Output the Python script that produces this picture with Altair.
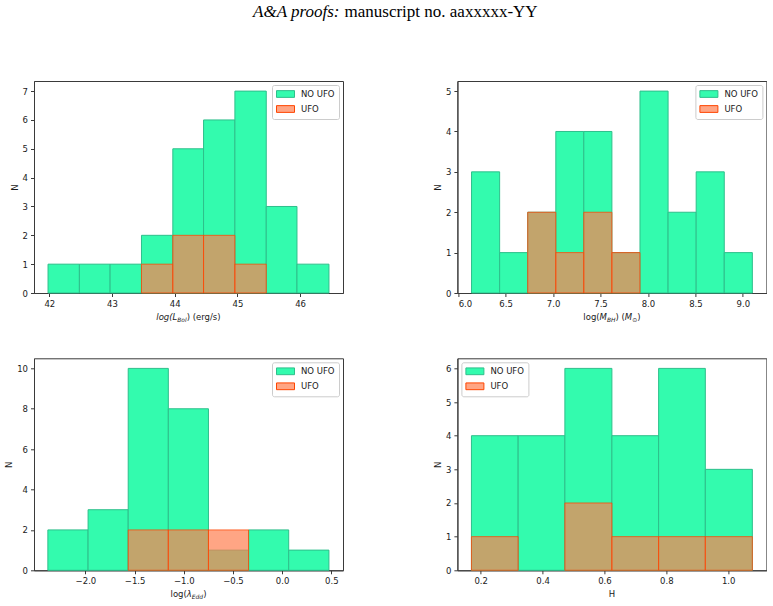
import altair as alt
import pandas as pd

# ---- histogram bins (edges) and counts for the two samples ----
lbol_edges = [41.98, 42.48, 42.97, 43.47, 43.97, 44.46, 44.96, 45.46, 45.95, 46.46]
lbol_no_ufo = [1, 1, 1, 2, 5, 6, 7, 3, 1]
lbol_ufo = [0, 0, 0, 1, 2, 2, 1, 0, 0]

mbh_edges = [6.141, 6.437, 6.733, 7.029, 7.324, 7.620, 7.916, 8.212, 8.508, 8.804, 9.100]
mbh_no_ufo = [3, 1, 2, 4, 4, 1, 5, 2, 3, 1]
mbh_ufo = [0, 0, 2, 1, 2, 1, 0, 0, 0, 0]

edd_edges = [-2.382, -1.973, -1.565, -1.157, -0.749, -0.341, 0.067, 0.476]
edd_no_ufo = [2, 3, 10, 8, 1, 2, 1]
edd_ufo = [0, 0, 2, 2, 2, 0, 0]

h_edges = [0.170, 0.321, 0.472, 0.624, 0.775, 0.926, 1.078]
h_no_ufo = [4, 4, 6, 4, 6, 3]
h_ufo = [1, 0, 2, 1, 1, 1]

# axis ticks
lbol_ticks = [42, 43, 44, 45, 46]
mbh_ticks = [6.0, 6.5, 7.0, 7.5, 8.0, 8.5, 9.0]
edd_ticks = [-2.0, -1.5, -1.0, -0.5, 0.0, 0.5]
h_ticks = [0.2, 0.4, 0.6, 0.8, 1.0]

GROUPS = ["NO UFO", "UFO"]
FILL_RANGE = ["#33FBAE", "#FFA584"]
STROKE_RANGE = ["#2EBF8B", "#FF4500"]

FONT = "DejaVu Sans"
FS = 8.5
W, H = 309, 212

# approximate DejaVu Sans advance widths (em) used to lay out the math-style titles
EM = {"l": .278, "o": .612, "g": .635, "(": .39, ")": .39, "L": .557, "B": .686,
      " ": .318, "e": .615, "r": .411, "/": .337, "s": .521, "M": .863, "H": .752,
      "E": .632, "d": .635, "\u03bb": .592, "\u2299": .838}


def text_width(s, size):
    return sum(EM.get(c, 0.6) for c in s) * size


def hist_table(edges, counts, group):
    rows = [{"lo": lo, "hi": hi, "n": n, "group": group}
            for lo, hi, n in zip(edges[:-1], edges[1:], counts) if n > 0]
    return pd.DataFrame(rows)


def math_title(parts, baseline):
    """parts: list of (text, italic, subscript) drawn centred under the plot."""
    sizes = [FS * 0.7 if sub else FS for _, _, sub in parts]
    total = sum(text_width(t, s) for (t, _, _), s in zip(parts, sizes))
    x = W / 2 - total / 2
    layers = []
    for (t, italic, sub), s in zip(parts, sizes):
        # leading blanks are turned into an x advance (SVG drops them)
        body = t.lstrip(" ")
        x += text_width(t[: len(t) - len(body)], s)
        layers.append(
            alt.Chart(alt.Data(values=[{}]))
            .mark_text(text=body, font=FONT, fontSize=s,
                       fontStyle="italic" if italic else "normal",
                       align="left", baseline="alphabetic", color="#1a1a1a")
            .encode(x=alt.value(x), y=alt.value(baseline + (2.2 if sub else 0)))
        )
        x += text_width(body, s)
    return layers


def panel(edges, no_ufo, ufo, xdom, xticks, xfmt, ymax, yticks, title_parts, orient):
    df = pd.concat([hist_table(edges, no_ufo, "NO UFO"), hist_table(edges, ufo, "UFO")],
                   ignore_index=True)
    legend = alt.Legend(
        orient=orient, offset=4, title=None, padding=4, strokeColor="#cccccc",
        fillColor="white", cornerRadius=2, symbolType="M-1,-0.75H3V0.75H-1Z",
        symbolSize=81, symbolStrokeWidth=1, labelOffset=15, rowPadding=3,
        labelFont=FONT, labelFontSize=FS, labelColor="#1a1a1a",
    )
    fill_scale = alt.Scale(domain=GROUPS, range=FILL_RANGE)
    stroke_scale = alt.Scale(domain=GROUPS, range=STROKE_RANGE)
    x = alt.X("lo:Q", scale=alt.Scale(domain=xdom, nice=False, zero=False),
              axis=alt.Axis(values=xticks, format=xfmt, title=None))
    y = alt.Y("n:Q", scale=alt.Scale(domain=[0, ymax * 1.05], nice=False),
              axis=alt.Axis(values=yticks, format="d", title="N"))
    base = alt.Chart(df).encode(
        x=x, x2="hi:Q", y=y, y2=alt.datum(0),
        stroke=alt.Stroke("group:N", scale=stroke_scale, legend=legend),
    )
    green = (base.transform_filter(alt.datum.group == "NO UFO")
             .mark_bar(strokeWidth=1)
             .encode(color=alt.Color("group:N", scale=fill_scale, legend=legend)))
    orange = (base.transform_filter(alt.datum.group == "UFO")
              .mark_bar(fill="#FF7F50", fillOpacity=0.7, strokeOpacity=0.75, strokeWidth=1))
    layers = [green, orange] + math_title(title_parts, 238.5)
    return layers


p1_layers = panel(lbol_edges, lbol_no_ufo, lbol_ufo, [41.756, 46.684], lbol_ticks, "d", 7,
                  list(range(0, 8)),
                  [("log(L", True, False), ("Bol", True, True), (")", False, False),
                   (" (erg/s)", False, False)], "top-right")

# page header placed above the first panel
header = [
    alt.Chart(alt.Data(values=[{}]))
    .mark_text(text="A&A proofs:", font="Liberation Serif", fontSize=17, fontStyle="italic",
               align="right", baseline="alphabetic", color="black")
    .encode(x=alt.value(305.5), y=alt.value(-64)),
    alt.Chart(alt.Data(values=[{}]))
    .mark_text(text="manuscript no. aaxxxxx-YY", font="Liberation Serif", fontSize=17,
               align="left", baseline="alphabetic", color="black")
    .encode(x=alt.value(310.5), y=alt.value(-64)),
]

p1 = alt.layer(*(p1_layers + header)).properties(width=W, height=H)

p2 = alt.layer(*panel(mbh_edges, mbh_no_ufo, mbh_ufo, [5.992, 9.248], mbh_ticks, ".1f", 5,
                      list(range(0, 6)),
                      [("log(", False, False), ("M", True, False), ("BH", True, True),
                       (")", False, False), (" (", False, False), ("M", True, False),
                       ("\u2299", False, True), (")", False, False)],
                      "top-right")).properties(width=W, height=H)

p3 = alt.layer(*panel(edd_edges, edd_no_ufo, edd_ufo, [-2.523, 0.619], edd_ticks, ".1f", 10,
                      [0, 2, 4, 6, 8, 10],
                      [("log(", False, False), ("\u03bb", True, False), ("Edd", True, True),
                       (")", False, False)], "top-right")).properties(width=W, height=H)

p4 = alt.layer(*panel(h_edges, h_no_ufo, h_ufo, [0.1246, 1.1234], h_ticks, ".1f", 6,
                      list(range(0, 7)),
                      [("H", False, False)], "top-left")).properties(width=W, height=H)

chart = (
    alt.concat(p1, p2, p3, p4, columns=2, bounds="flush",
               spacing=alt.RowColnumber(row=65.3, column=114.4))
    .resolve_scale(x="independent", y="independent", color="independent", stroke="independent")
    .properties(padding={"left": 4, "top": 2, "right": 0, "bottom": 0}, background="white")
    .configure_view(stroke="#3a3a3a", strokeWidth=1)
    .configure_axis(
        grid=False, domainColor="#3a3a3a", tickColor="#3a3a3a", tickSize=3.5,
        labelFont=FONT, labelFontSize=FS, labelColor="#1a1a1a", labelPadding=3,
        titleFont=FONT, titleFontSize=FS, titleFontWeight="normal", titleColor="#1a1a1a",
        titlePadding=3,
    )
)

chart.save("out.html", embed_options={"renderer": "svg", "actions": False})
